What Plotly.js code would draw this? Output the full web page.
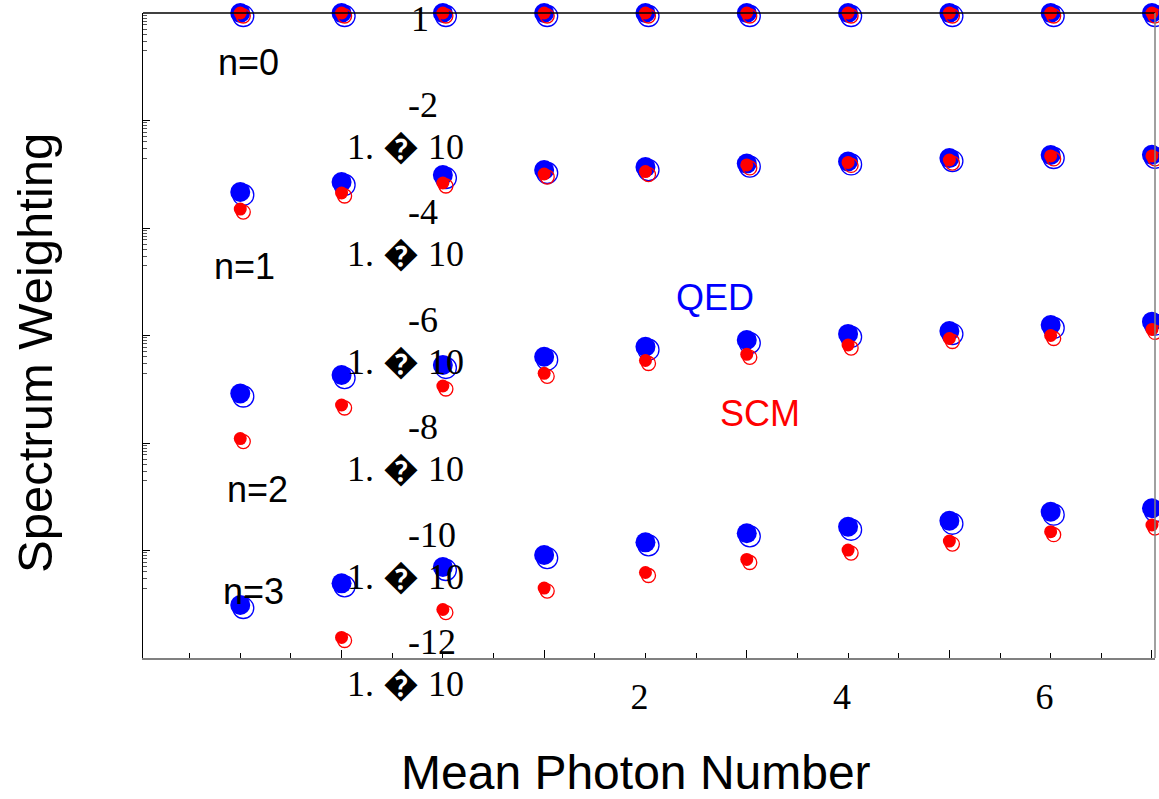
<!DOCTYPE html>
<html>
<head>
<meta charset="utf-8">
<script src="https://cdn.plot.ly/plotly-3.0.1.min.js"></script>
<style>html,body{margin:0;padding:0;background:#fff;}#chart{width:1159px;height:799px;}</style>
</head>
<body>
<div id="chart"></div>
<script>
// ---- data ----
const meanPhoton = [-2, -1, 0, 1, 2, 3, 4, 5, 6, 7];

const qedN0 = [1, 1, 1, 1, 1, 1, 1, 1, 1, 1];
const scmN0 = [1, 1, 1, 1, 1, 1, 1, 1, 1, 1];

const qedN1 = [4.68e-4, 7.18e-4, 9.68e-4, 1.20e-3, 1.36e-3, 1.58e-3, 1.73e-3, 2.00e-3, 2.28e-3, 2.30e-3];
const scmN1 = [2.25e-4, 4.48e-4, 6.87e-4, 1.01e-3, 1.12e-3, 1.49e-3, 1.66e-3, 1.84e-3, 2.19e-3, 2.19e-3];

const qedN2 = [8.34e-8, 1.84e-7, 2.83e-7, 4.03e-7, 6.19e-7, 8.24e-7, 1.07e-6, 1.21e-6, 1.57e-6, 1.81e-6];
const scmN2 = [1.21e-8, 5.09e-8, 1.15e-7, 1.98e-7, 3.43e-7, 4.47e-7, 6.65e-7, 8.79e-7, 1.00e-6, 1.30e-6];

const qedN3 = [9.68e-12, 2.45e-11, 4.93e-11, 8.24e-11, 1.42e-10, 2.09e-10, 2.77e-10, 3.58e-10, 5.27e-10, 6.10e-10];
const scmN3 = [null, 2.41e-12, 7.98e-12, 2.00e-11, 3.90e-11, 6.81e-11, 1.02e-10, 1.50e-10, 2.24e-10, 2.98e-10];

const xTickLabelVals = [2, 4, 6];
const xTickLabelText = ['2', '4', '6'];
const yTickExponents = [-2, -4, -6, -8, -10, -12];
const nLabels = ['n=0', 'n=1', 'n=2', 'n=3'];

// ---- layout constants ----
const XR = [-2.96, 7.03];
const YR = [-12, 0];
const DX = 0.03, DY = 0.056;   // small offset for the outline copies
const LX = 0.06;               // tick label shift

const qedSets = [qedN0, qedN1, qedN2, qedN3];
const scmSets = [scmN0, scmN1, scmN2, scmN3];

function flatX(sets) { return sets.flatMap(() => meanPhoton); }
function flatY(sets) { return sets.flatMap(s => s); }

const BLUE = '#0000ff', RED = '#ff0000';

const traces = [
  { // QED filled
    type: 'scatter', mode: 'markers', name: 'QED', xaxis: 'x', yaxis: 'y',
    x: flatX(qedSets), y: flatY(qedSets), cliponaxis: false,
    marker: { color: BLUE, size: 20, symbol: 'circle', line: { width: 0 } }
  },
  { // QED outline
    type: 'scatter', mode: 'markers', name: 'QED outline', xaxis: 'x2', yaxis: 'y2',
    x: flatX(qedSets), y: flatY(qedSets), cliponaxis: false,
    marker: { color: BLUE, size: 21, symbol: 'circle-open', line: { width: 1.3, color: BLUE } }
  },
  { // SCM filled
    type: 'scatter', mode: 'markers', name: 'SCM', xaxis: 'x3', yaxis: 'y3',
    x: flatX(scmSets), y: flatY(scmSets), cliponaxis: false,
    marker: { color: RED, size: 13, symbol: 'circle', line: { width: 0 } }
  },
  { // SCM outline
    type: 'scatter', mode: 'markers', name: 'SCM outline', xaxis: 'x4', yaxis: 'y4',
    x: flatX(scmSets), y: flatY(scmSets), cliponaxis: false,
    marker: { color: RED, size: 14, symbol: 'circle-open', line: { width: 1.3, color: RED } }
  },
  { // carrier for the tick-label axis (no marks)
    type: 'scatter', mode: 'markers', xaxis: 'x5', yaxis: 'y', x: [], y: [], hoverinfo: 'skip'
  }
];

// minor tick values for log y axis
const yMinor = [];
for (let k = 0; k >= -10; k -= 2) {
  for (let m = 9; m >= 2; m--) yMinor.push(m / 10 * Math.pow(10, k));
}
const yMajor = [1].concat(yTickExponents.map(e => Math.pow(10, e)));

const serif = 'Liberation Serif, Times New Roman, serif';
const sans = 'Liberation Sans, Arial, sans-serif';

const annotations = [];
// y tick labels in the odd "1. \uFFFD 10^-n" form
annotations.push({ xref: 'paper', yref: 'y', x: 0.274, y: 0, text: '1', showarrow: false,
  xanchor: 'center', yanchor: 'middle', yshift: -6, font: { family: serif, size: 36, color: '#000' } });
yTickExponents.forEach(e => {
  annotations.push({ xref: 'paper', yref: 'y', x: 0.259, y: e, text: '1. \uFFFD 10', showarrow: false,
    xanchor: 'center', yanchor: 'middle', yshift: -26, font: { family: serif, size: 36, color: '#000' } });
  annotations.push({ xref: 'paper', yref: 'y', x: 0.259, y: e, text: String(e), showarrow: false,
    xanchor: 'left', yanchor: 'middle', yshift: 16, xshift: 1, font: { family: serif, size: 36, color: '#000' } });
});
// n labels
const nPos = [[-1.92, -0.912], [-1.96, -4.707], [-1.83, -8.856], [-1.87, -10.77]];
nLabels.forEach((t, i) => {
  annotations.push({ xref: 'x', yref: 'y', x: nPos[i][0], y: nPos[i][1], text: t, showarrow: false,
    xanchor: 'center', yanchor: 'middle', font: { family: sans, size: 36, color: '#000' } });
});
annotations.push({ xref: 'x', yref: 'y', x: 2.69, y: -5.284, text: 'QED', showarrow: false,
  xanchor: 'center', yanchor: 'middle', font: { family: sans, size: 36, color: BLUE } });
annotations.push({ xref: 'x', yref: 'y', x: 3.13, y: -7.442, text: 'SCM', showarrow: false,
  xanchor: 'center', yanchor: 'middle', font: { family: sans, size: 36, color: RED } });
// axis titles
annotations.push({ xref: 'paper', yref: 'paper', x: 0.487, y: -0.177, text: 'Mean Photon Number', showarrow: false,
  xanchor: 'center', yanchor: 'middle', font: { family: sans, size: 48, color: '#000' } });
annotations.push({ xref: 'paper', yref: 'paper', x: -0.1067, y: 0.473, text: 'Spectrum Weighting', showarrow: false,
  textangle: -90, xanchor: 'center', yanchor: 'middle', font: { family: sans, size: 49, color: '#000' } });

const hidden = { visible: false, showgrid: false, zeroline: false, fixedrange: true };

const layout = {
  width: 1159, height: 799,
  margin: { l: 143, r: 4, t: 13, b: 141, pad: 0 },
  paper_bgcolor: '#fff', plot_bgcolor: '#fff',
  showlegend: false,
  xaxis: {
    range: XR, showgrid: false, zeroline: false,
    showline: true, linecolor: '#808080', linewidth: 1.5,
    ticks: 'inside', ticklen: 8, tickwidth: 1, tickcolor: '#000',
    tickmode: 'array', tickvals: [-1, 1, 3, 5, 7], showticklabels: false,
    minor: { ticks: 'inside', ticklen: 5, tickwidth: 1, tickcolor: '#000', dtick: 0.5, tick0: 0, showgrid: false }
  },
  yaxis: {
    type: 'log', range: YR, showgrid: false, zeroline: false,
    showline: true, linecolor: '#000', linewidth: 1.5,
    ticks: 'inside', ticklen: 7, tickwidth: 1, tickcolor: '#000',
    tickmode: 'array', tickvals: yMajor, showticklabels: false,
    minor: { ticks: 'inside', ticklen: 4, tickwidth: 1, tickcolor: '#555', tickmode: 'array', tickvals: yMinor, showgrid: false }
  },
  xaxis2: Object.assign({ overlaying: 'x', range: [XR[0] - DX, XR[1] - DX] }, hidden),
  yaxis2: Object.assign({ overlaying: 'y', type: 'log', range: [YR[0] + DY, YR[1] + DY] }, hidden),
  xaxis3: Object.assign({ overlaying: 'x', range: XR }, hidden),
  yaxis3: Object.assign({ overlaying: 'y', type: 'log', range: YR }, hidden),
  xaxis4: Object.assign({ overlaying: 'x', range: [XR[0] - DX, XR[1] - DX] }, hidden),
  yaxis4: Object.assign({ overlaying: 'y', type: 'log', range: [YR[0] + DY, YR[1] + DY] }, hidden),
  xaxis5: {
    overlaying: 'x', anchor: 'y', side: 'bottom', range: [XR[0] + LX, XR[1] + LX],
    showgrid: false, zeroline: false, showline: false, ticks: '',
    tickmode: 'array', tickvals: xTickLabelVals, ticktext: xTickLabelText,
    ticklabelstandoff: 14,
    tickfont: { family: serif, size: 36, color: '#000' }
  },
  shapes: [
    { type: 'line', xref: 'paper', yref: 'paper', x0: 0, x1: 1, y0: 1, y1: 1, line: { color: '#000', width: 1.5 } },
    { type: 'line', xref: 'paper', yref: 'paper', x0: 1, x1: 1, y0: 0, y1: 1, line: { color: '#808080', width: 1.5 } }
  ],
  annotations: annotations
};

Plotly.newPlot('chart', traces, layout, { staticPlot: true, displayModeBar: false });
</script>
</body>
</html>
